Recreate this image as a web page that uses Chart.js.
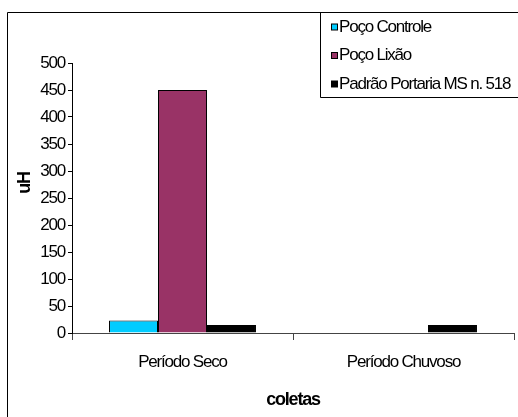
<!DOCTYPE html>
<html>
<head>
<meta charset="utf-8">
<script src="https://cdn.jsdelivr.net/npm/chart.js@4/dist/chart.umd.min.js"></script>
<style>
  html, body { margin: 0; padding: 0; background: #fff; }
  #wrap { width: 518px; height: 417px; position: relative; }
</style>
</head>
<body>
<div id="wrap"><canvas id="chart"></canvas></div>
<script>
// values
const categories = ['Período Seco', 'Período Chuvoso'];
const seriesNames = ['Poço Controle', 'Poço Lixão', 'Padrão Portaria MS n. 518'];
const pocoControle = [23, null];
const pocoLixao = [450, null];
const padraoPortaria = [15, 15];
const yTicks = [0, 50, 100, 150, 200, 250, 300, 350, 400, 450, 500];
const seriesColors = ['#00ccff', '#993366', '#000000'];

const FONT = "'Liberation Sans', Arial, sans-serif";
const TIGHT = '-1.2px'; // the original text is squeezed

// outer frame, legend box and the y title like the spreadsheet export
const framePlugin = {
  id: 'frame',
  beforeDraw(chart) {
    const ctx = chart.ctx;
    ctx.fillStyle = '#fff';
    ctx.fillRect(0, 0, chart.width, chart.height);
    ctx.letterSpacing = TIGHT;
  },
  afterDraw(chart) {
    const ctx = chart.ctx;
    ctx.save();
    ctx.letterSpacing = TIGHT;
    ctx.strokeStyle = '#000';
    ctx.lineWidth = 1;
    ctx.beginPath();
    ctx.moveTo(7.5, chart.height);
    ctx.lineTo(7.5, 12.5);
    ctx.lineTo(chart.width, 12.5);
    ctx.moveTo(320.5, 12.5);
    ctx.lineTo(320.5, 97.5);
    ctx.lineTo(chart.width, 97.5);
    ctx.stroke();

    const rows = [27, 55.5, 84];
    ctx.font = '17px ' + FONT;
    ctx.textBaseline = 'middle';
    ctx.textAlign = 'left';
    chart.data.datasets.forEach((ds, i) => {
      const y = rows[i];
      ctx.fillStyle = ds.backgroundColor;
      ctx.fillRect(331.5, y - 3, 6, 6);
      ctx.strokeRect(331.5, y - 3, 6, 6);
      ctx.fillStyle = '#000';
      ctx.fillText(ds.label, 339, y);
    });

    // y axis title
    ctx.translate(25, 183);
    ctx.rotate(-Math.PI / 2);
    ctx.textAlign = 'center';
    ctx.font = 'bold 18px ' + FONT;
    ctx.fillText('uH', 0, 0);
    ctx.restore();
  }
};

const datasets = [pocoControle, pocoLixao, padraoPortaria].map((values, i) => ({
  label: seriesNames[i],
  data: values,
  backgroundColor: seriesColors[i],
  borderColor: '#000',
  borderWidth: 1,
  categoryPercentage: 0.665,
  barPercentage: 1.0,
}));

new Chart(document.getElementById('chart'), {
  type: 'bar',
  data: { labels: categories, datasets },
  plugins: [framePlugin],
  options: {
    responsive: true,
    maintainAspectRatio: false,
    animation: false,
    layout: { padding: { top: 63, right: 4, left: 0, bottom: 0 } },
    plugins: {
      legend: { display: false },
      tooltip: { enabled: false },
    },
    scales: {
      x: {
        grid: {
          drawOnChartArea: false,
          tickLength: 7,
          color: '#444',
        },
        border: { color: '#444' },
        ticks: {
          color: '#000',
          padding: 12,
          font: { family: FONT, size: 17 },
        },
        title: {
          display: true,
          text: 'coletas',
          color: '#000',
          padding: { top: 0, bottom: 6 },
          font: { family: FONT, size: 18, weight: 'bold' },
        },
        afterFit: (scale) => { scale.height = 84; },
      },
      y: {
        min: 0,
        max: 500,
        afterBuildTicks: (scale) => {
          scale.ticks = yTicks.map((v) => ({ value: v }));
        },
        grid: {
          drawOnChartArea: false,
          tickLength: 4,
          color: '#000',
        },
        border: { color: '#000' },
        ticks: {
          color: '#000',
          padding: 3,
          font: { family: FONT, size: 17 },
        },
        afterFit: (scale) => { scale.width = 72; },
      },
    },
  },
});
</script>
</body>
</html>
